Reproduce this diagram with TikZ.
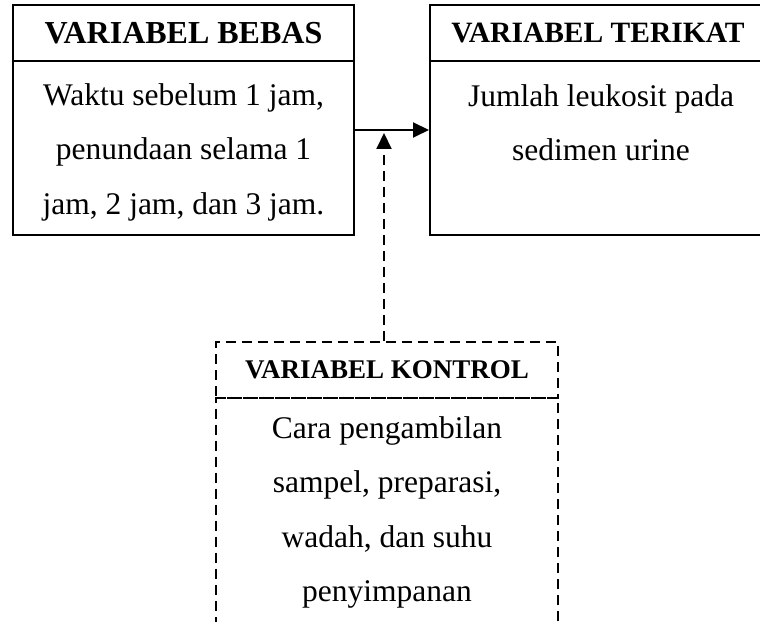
\documentclass[tikz,border=0pt]{standalone}
\usepackage{fontspec}
\setmainfont{Liberation Serif}
\usetikzlibrary{arrows.meta}
\begin{document}
\begin{tikzpicture}[x=1pt,y=1pt,
  box/.style={draw,line width=2pt,inner sep=0pt,anchor=center},
  dbox/.style={box,dash pattern=on 10pt off 6pt},
  body/.style={align=center,font=\fontsize{31.5}{54.5}\selectfont},
  arr/.style={line width=2pt,-{Triangle[length=16pt,width=15pt]}}]
\useasboundingbox (0,0) rectangle (760,621);
% left
\node[box,minimum width=341pt,minimum height=56pt,font=\fontsize{32}{36}\selectfont\bfseries] (bebasH) at (183.5,588) {VARIABEL BEBAS};
\node[box,minimum width=341pt,minimum height=174pt] (bebasB) at (183.5,473) {};
\node[body] (bebasT) at (183.5,469) {Waktu sebelum 1 jam,\\penundaan selama 1\\jam, 2 jam, dan 3 jam.};
% right
\node[box,minimum width=335pt,minimum height=56pt] (terikatH) at (597.5,588) {};
\node[font=\fontsize{29.5}{34}\selectfont\bfseries] (terikatL) at (598,588) {VARIABEL TERIKAT};
\node[box,minimum width=335pt,minimum height=174pt] (terikatB) at (597.5,473) {};
\node[body] (terikatT) at (601,498.5) {Jumlah leukosit pada\\sedimen urine};
% control
\node[dbox,minimum width=342pt,minimum height=56pt,font=\fontsize{27}{32}\selectfont\bfseries] (kontrolH) at (387,251) {VARIABEL KONTROL};
\node[dbox,minimum width=342pt,minimum height=233pt] (kontrolB) at (387,106.5) {};
\node[body] (kontrolT) at (387,108.5) {Cara pengambilan\\sampel, preparasi,\\wadah, dan suhu\\penyimpanan};
% connectors
\coordinate (kt) at (384,488);
\draw[arr] ([yshift=18pt]bebasB.east) -- ([yshift=18pt]terikatB.west);
\draw[arr,dash pattern=on 10pt off 6pt] ([xshift=-3pt]kontrolH.north) -- (kt);
\end{tikzpicture}
\end{document}
